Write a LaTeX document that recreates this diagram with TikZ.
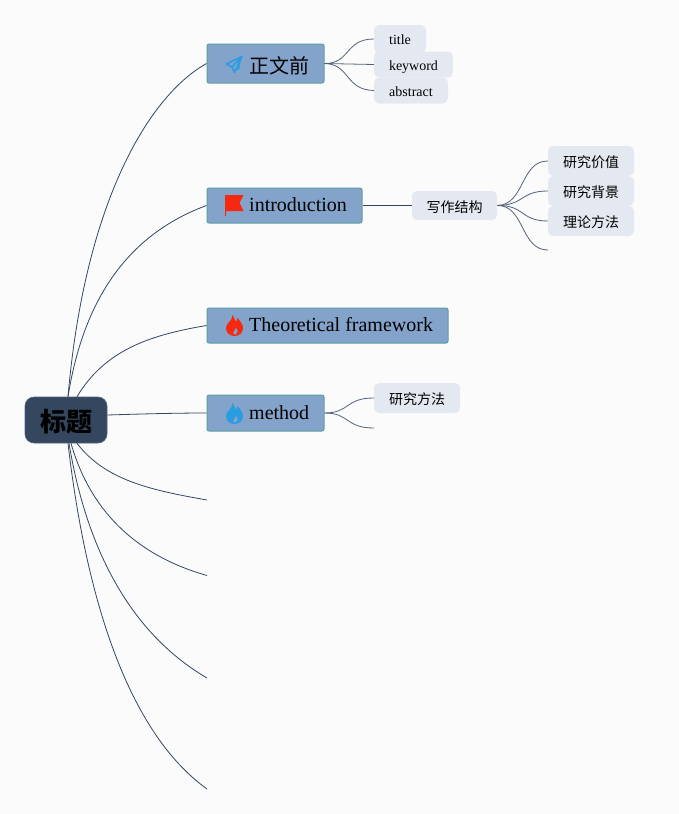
\documentclass[tikz,border=0pt]{standalone}
\usepackage{fontspec}
\setmainfont{Liberation Serif}
\newfontfamily\cjk{Noto Sans CJK SC}
\definecolor{bg}{HTML}{FBFBFC}
\definecolor{rootfill}{HTML}{34475F}
\definecolor{branchfill}{HTML}{84A3CB}
\definecolor{branchedge}{HTML}{5F9EA0}
\definecolor{leaffill}{HTML}{E4E9F1}
\definecolor{wire}{HTML}{34475F}
\definecolor{iconred}{HTML}{F5290F}
\definecolor{iconblue}{HTML}{2A9DE2}
\newcommand{\lowr}[2]{\raisebox{-#1pt}[8pt][0pt]{#2}}
\tikzset{
 rootbox/.style={draw=rootfill!85!white,line width=.6pt,fill=rootfill,rounded corners=9pt,minimum width=82pt,minimum height=46pt,inner sep=0pt,font=\cjk\bfseries\fontsize{26}{30}\selectfont,text height=18pt,text depth=0pt},
 branchbox/.style={draw=branchedge,line width=1pt,fill=branchfill,rounded corners=2pt,inner sep=0pt},
 branchtext/.style={anchor=west,inner sep=0pt,font=\fontsize{20}{24}\selectfont},
 leafbox/.style={fill=leaffill,rounded corners=5pt,inner sep=0pt,font=\fontsize{14}{17}\selectfont,text height=8pt,text depth=0pt},
 leafcjk/.style={leafbox,minimum width=86pt,minimum height=30pt,font=\cjk\fontsize{14}{17}\selectfont},
 wirel/.style={draw=wire,line width=.8pt},
 wirem/.style={draw=wire!85!white,line width=.8pt},
}
\begin{document}
\begin{tikzpicture}[x=1pt,y=-1pt]
\path[use as bounding box,fill=bg] (0,0) rectangle (679,814);
\coordinate (r1) at (207,500);
\coordinate (r2) at (207,575.5);
\coordinate (r3) at (207,678);
\coordinate (r4) at (207,789);
\coordinate (i4) at (548,250);
\coordinate (m2) at (374,428);
% leaf nodes
\node[leafbox,minimum width=52pt,minimum height=28pt] (title) at (400,39) {\lowr{1}{title}};
\node[leafbox,minimum width=79pt,minimum height=26pt] (keyword) at (413.5,64.5) {\lowr{1.5}{keyword}};
\node[leafbox,minimum width=74pt,minimum height=26pt] (abstract) at (411,90.5) {\lowr{1.5}{abstract}};
\node[leafcjk,minimum width=85pt,minimum height=29pt] (struct) at (454.5,205.5) {\lowr{2.5}{写作结构}};
\node[leafcjk] (val) at (591,161) {\lowr{2}{研究价值}};
\node[leafcjk] (back) at (591,191) {\lowr{2}{研究背景}};
\node[leafcjk] (theo) at (591,221) {\lowr{2}{理论方法}};
\node[leafcjk] (meth) at (417,398) {\lowr{2}{研究方法}};
% main boxes
\node[rootbox] (root) at (66,420) {\raisebox{-2pt}[18pt][0pt]{标题}};
\node[branchbox,minimum width=117pt,minimum height=39pt] (b1) at (265.5,63.5) {};
\node[branchbox,minimum width=155pt,minimum height=35pt] (b2) at (284.5,205.5) {};
\node[branchbox,minimum width=241pt,minimum height=35pt] (b3) at (327.5,325.5) {};
\node[branchbox,minimum width=117pt,minimum height=36pt] (b4) at (265.5,413) {};
\node[branchtext,font=\cjk\fontsize{20}{24}\selectfont] (t1) at (249,65.5) {正文前};
\node[branchtext] (t2) at (249,205) {introduction};
\node[branchtext] (t3) at (249,324.5) {Theoretical framework};
\node[branchtext] (t4) at (249,412.5) {method};
% root connectors
\draw[wirel] ([xshift=2pt]root.north) .. controls (85,200) and (150,95) .. (b1.west);
\draw[wirel] ([xshift=2pt]root.north) .. controls (85,290) and (135,232) .. (b2.west);
\draw[wirel] ([xshift=11pt]root.north) .. controls (105,350) and (150,335) .. (b3.west);
\draw[wirel] (root.east |- 0,415) .. controls (140,414) and (175,413) .. (b4.west);
\draw[wirel] ([xshift=11pt]root.south) .. controls (105,480) and (150,490) .. (r1);
\draw[wirel] ([xshift=5pt]root.south) .. controls (90,510) and (135,555) .. (r2);
\draw[wirel] ([xshift=3pt]root.south) .. controls (85,540) and (125,630) .. (r3);
\draw[wirel] ([xshift=2pt]root.south) .. controls (85,590) and (125,730) .. (r4);
% branch connectors
\draw[wirem] (b1.east) .. controls (350,64) and (345,39) .. (title.west);
\draw[wirem] (b1.east) -- (keyword.west);
\draw[wirem] (b1.east) .. controls (350,64) and (345,90) .. (abstract.west);
\draw[wirel] (b2.east) -- (struct.west);
\draw[wirem] (struct.east) .. controls (525,205) and (520,161) .. (val.west);
\draw[wirem] (struct.east) .. controls (525,205) and (520,191) .. (back.west);
\draw[wirem] (struct.east) .. controls (525,205) and (520,221) .. (theo.west);
\draw[wirem] (struct.east) .. controls (525,205) and (520,250) .. (i4);
\draw[wirem] (b4.east) .. controls (350,413) and (345,398) .. (meth.west);
\draw[wirem] (b4.east) .. controls (350,413) and (345,428) .. (m2);
% icons
\draw[iconblue,line width=1.6pt,line join=round] (242,56.5) -- (226.5,64) -- (232,67) -- (234.5,72.5) -- (242,56.5) -- (232,67);
\draw[iconblue,line width=1.3pt,line join=round] (234.5,70.5) -- (239,68.5) -- (240,60);
\fill[iconred] (225,195) -- (243.5,195) -- (239.5,203) -- (243.5,211) -- (226,211) -- (226,216) -- (225,216) -- cycle;
\foreach \yy/\cc in {325/iconred,413/iconblue}{
\fill[\cc,even odd rule] (232.5,\yy-10) .. controls (234,\yy-7) and (235,\yy-5) .. (236,\yy-3.5)
  .. controls (237,\yy-4) and (237.5,\yy-5.5) .. (237.5,\yy-7)
  .. controls (240.5,\yy-3.5) and (243,\yy-0.5) .. (243,\yy+3)
  .. controls (243,\yy+7.5) and (239.5,\yy+11) .. (234.5,\yy+11)
  .. controls (229.5,\yy+11) and (226,\yy+7.5) .. (226,\yy+3)
  .. controls (226,\yy-2) and (232.5,\yy-4) .. (232.5,\yy-10) -- cycle
  (236,\yy+9.5) .. controls (238,\yy+8) and (238.5,\yy+6) .. (236,\yy+2.5)
  .. controls (235.5,\yy+5) and (233,\yy+6) .. (233,\yy+8)
  .. controls (233,\yy+9) and (234.5,\yy+10) .. (236,\yy+9.5) -- cycle;
}
\end{tikzpicture}
\end{document}
